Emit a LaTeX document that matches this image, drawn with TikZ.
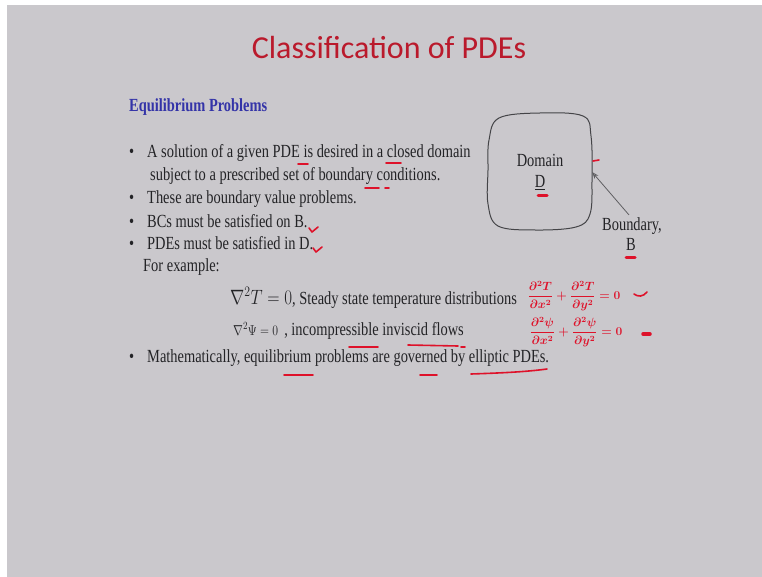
\documentclass[tikz,border=0pt]{standalone}
\usepackage{fontspec}
\setmainfont{Liberation Serif}[FakeStretch=0.78]
\newfontfamily\titlefont{Carlito}
\usetikzlibrary{arrows.meta}
\definecolor{bgc}{RGB}{202,200,204}
\definecolor{inkc}{RGB}{35,35,38}
\definecolor{titlered}{RGB}{186,26,44}
\definecolor{headblue}{RGB}{52,52,168}
\definecolor{redink}{RGB}{222,18,42}
\definecolor{arrowgray}{RGB}{95,95,98}
\newcommand\bodysize{\fontsize{18.5}{23}\selectfont}
\tikzset{
  txt/.style={anchor=base west, inner sep=0pt, text=inkc, font=\bodysize},
  bul/.style={anchor=base west, inner sep=0pt, text=inkc, font=\bodysize},
  lbl/.style={anchor=base, inner sep=0pt, text=inkc, font=\bodysize},
  titlest/.style={anchor=base, inner sep=0pt, text=titlered, font=\titlefont\fontsize{32}{36}\selectfont},
  headst/.style={anchor=base west, inner sep=0pt, text=headblue, font=\bodysize\bfseries},
  inkline/.style={draw=redink, line width=1.6pt, line cap=round, line join=round},
  hand/.style={inner sep=0pt, text=redink, font=\fontsize{11.5}{11.5}\selectfont\boldmath},
  domline/.style={draw=inkc!85, line width=1pt},
  ptr/.style={draw=arrowgray, line width=0.8pt, -{Stealth[length=7pt,width=5pt,open]}}
}
\begin{document}
\begin{tikzpicture}[x=1pt,y=-1pt]
\useasboundingbox (0,0) rectangle (762,577);
\fill[white] (0,0) rectangle (762,577);
\fill[bgc] (7,5) rectangle (762,577);

% title and heading
\node[titlest] (title) at (389,59) {Classification of PDEs};
\node[headst] (head) at (129,112) {Equilibrium Problems};

% bullets
\node[bul] (b1) at (129,158) {•};
\node[txt] (l1) at (147,158) {A solution of a given PDE is desired in a closed domain};
\node[txt] (l1b) at (150,181) {subject to a prescribed set of boundary conditions.};
\node[bul] (b2) at (129,204) {•};
\node[txt] (l2) at (147,204) {These are boundary value problems.};
\node[bul] (b3) at (129,227) {•};
\node[txt] (l3) at (147,227) {BCs must be satisfied on B.};
\node[bul] (b4) at (129,249) {•};
\node[txt] (l4) at (147,249) {PDEs must be satisfied in D.};
\node[txt] (ex) at (143,271) {For example:};
\node[txt] (e1) at (230,304) {\scalebox{0.82}[1]{\fontsize{20}{20}\selectfont$\nabla^{2}T=0$}, Steady state temperature distributions};
\node[txt] (e2) at (233,335) {\scalebox{0.82}[1]{\fontsize{15}{15}\selectfont$\nabla^{2}\Psi=0$}\hspace{6pt}, incompressible inviscid flows};
\node[bul] (b5) at (129,362) {•};
\node[txt] (l5) at (147,362) {Mathematically, equilibrium problems are governed by elliptic PDEs.};

% domain sketch
\draw[domline] plot[smooth cycle, tension=0.6] coordinates {(489,140) (499,118) (540,113) (583,116) (591,136) (592,180) (590,214) (576,227) (535,230) (498,226) (488,204) (488,170)};
\node[lbl] (dom) at (540,167) {Domain};
\node[lbl] (dd) at (540,188) {\underline{D}};
\node[lbl] (bnd) at (632,230) {Boundary,};
\node[lbl] (bb) at (631,251) {B};
\coordinate (bpt) at (592,172);
\draw[ptr] ([xshift=-3pt,yshift=2pt]bnd.north) -- (bpt);

% handwritten equations
\node[hand] (h1) at (574,296) {$\displaystyle\frac{\partial^{2}T}{\partial x^{2}}+\frac{\partial^{2}T}{\partial y^{2}}=0$};
\node[hand] (h2) at (576,332) {$\displaystyle\frac{\partial^{2}\psi}{\partial x^{2}}+\frac{\partial^{2}\psi}{\partial y^{2}}=0$};

% red ink marks
\draw[inkline] (298,164) -- (308,164);
\draw[inkline] (386,163) -- (401,163);
\draw[inkline] (365,188) -- (379,188);
\draw[inkline] (385,188) -- (389,188);
\draw[inkline] (309,228) -- (312,232) -- (318,227);
\draw[inkline] (313,248) -- (316,252) -- (322,247);
\draw[inkline] (593,161) -- (599,160);
\draw[inkline, line width=3pt] (538,196) -- (547,196);
\draw[inkline, line width=3pt] (626,257) -- (635,257);
\draw[inkline] (634,294) .. controls (638,297) and (643,297) .. (647,292);
\draw[inkline, line width=3.5pt] (643,334) -- (650,334);
\draw[inkline] (349,347) -- (378,347);
\draw[inkline] (408,345) -- (458,346);
\draw[inkline] (461,347) -- (465,347);
\draw[inkline] (284,375) -- (313,375);
\draw[inkline] (420,375) -- (437,375);
\draw[inkline] (471,374) .. controls (500,373) and (525,372) .. (547,369);
\end{tikzpicture}
\end{document}
